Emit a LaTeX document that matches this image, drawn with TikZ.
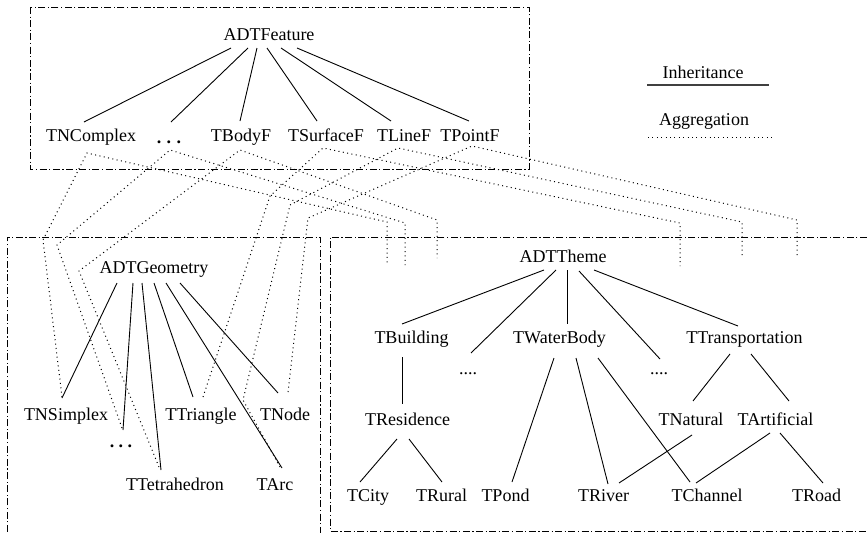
\documentclass[tikz,border=0pt]{standalone}
\usepackage{fontspec}
\setmainfont{Liberation Serif}
\newfontfamily\diagfont{Liberation Serif}
\usetikzlibrary{calc}
\begin{document}
\begin{tikzpicture}[x=1pt,y=-1pt,
  lbl/.style={inner sep=0pt, outer sep=0pt, text height=11.9pt, text depth=0pt, font=\diagfont\fontsize{18pt}{20pt}\selectfont},
  inh/.style={line width=0.9pt},
  agg/.style={line width=1pt, dash pattern=on 1pt off 3.4pt},
  boxline/.style={line width=0.9pt, dash pattern=on 7pt off 2.5pt on 1.2pt off 2.5pt}]
\useasboundingbox (0,0) rectangle (868,533);

% ---- boxes
\draw[boxline] (30,7) rectangle (529,169);
\draw[boxline] (7,545) -- (7,237) -- (320,237) -- (320,545);
\draw[boxline] (880,237) -- (330,237) -- (330,531) -- (880,531);

% ---- feature nodes
\node[lbl] (feat) at (269,35) {ADTFeature};
\node[lbl] (tnc) at (91,136) {TNComplex};
\node[lbl] (fdots) at (169,138) {\textbf{.\hspace{5.4pt}.\hspace{5.4pt}.}};
\node[lbl] (tbf) at (241,136) {TBodyF};
\node[lbl] (tsf) at (326,136) {TSurfaceF};
\node[lbl] (tlf) at (404,136) {TLineF};
\node[lbl] (tpf) at (470,136) {TPointF};

% ---- geometry nodes
\node[lbl] (geo) at (154,268) {ADTGeometry};
\node[lbl] (tns) at (66,415) {TNSimplex};
\node[lbl] (gdots) at (121,442) {\textbf{.\hspace{4.4pt}.\hspace{4.4pt}.}};
\node[lbl] (ttet) at (175,485) {TTetrahedron};
\node[lbl] (ttri) at (201,415) {TTriangle};
\node[lbl] (tnode) at (285,415) {TNode};
\node[lbl] (tarc) at (275,485) {TArc};

% ---- theme nodes
\node[lbl] (theme) at (563,257) {ADTTheme};
\node[lbl] (tbui) at (411.5,338) {TBuilding};
\node[lbl] (tdots1) at (468,369) {....};
\node[lbl] (twat) at (559.5,338) {TWaterBody};
\node[lbl] (tdots2) at (659,369) {....};
\node[lbl] (ttra) at (744.5,338) {TTransportation};
\node[lbl] (tres) at (407.5,420) {TResidence};
\node[lbl] (tnat) at (691,420) {TNatural};
\node[lbl] (tart) at (775.5,420) {TArtificial};
\node[lbl] (tcity) at (368,496) {TCity};
\node[lbl] (trur) at (441.5,496) {TRural};
\node[lbl] (tpond) at (505.5,496) {TPond};
\node[lbl] (triv) at (603.5,496) {TRiver};
\node[lbl] (tchan) at (707,496) {TChannel};
\node[lbl] (troad) at (816.5,496) {TRoad};

% ---- legend
\node[lbl] (linh) at (703,73) {Inheritance};
\node[lbl] (lagg) at (704,120) {Aggregation};
\draw[line width=1.2pt, black!75] ($(linh)+(-56,12)$) -- ($(linh)+(66,12)$);
\draw[agg] ($(lagg)+(-56,17)$) -- ($(lagg)+(69,17)$);

% ---- inheritance: feature
\draw[inh] ($(feat)+(-38,13)$) -- ($(tnc)+(-7,-14)$);
\draw[inh] ($(feat)+(-21,13)$) -- ($(fdots)+(2,-16)$);
\draw[inh] ($(feat)+(-12,13)$) -- ($(tbf)+(-1,-15)$);
\draw[inh] ($(feat)+(-2,13)$) -- ($(tsf)+(-9,-15)$);
\draw[inh] ($(feat)+(12,13)$) -- ($(tlf)+(-13,-15)$);
\draw[inh] ($(feat)+(28,13)$) -- ($(tpf)+(-1,-15)$);

% ---- inheritance: geometry
\draw[inh] ($(geo)+(-37,15)$) -- ($(tns)+(-4,-17)$);
\draw[inh] ($(geo)+(-21,15)$) -- ($(gdots)+(2,-12)$);
\draw[inh] ($(geo)+(-12,15)$) -- ($(ttet)+(-14,-15)$);
\draw[inh] ($(geo)+(0,15)$) -- ($(ttri)+(-8,-18)$);
\draw[inh] ($(geo)+(12,15)$) -- ($(tarc)+(7,-17)$);
\draw[inh] ($(geo)+(26,15)$) -- ($(tnode)+(-7,-22)$);

% ---- inheritance: theme
\draw[inh] ($(theme)+(-19,13)$) -- ($(tbui)+(-9.5,-14)$);
\draw[inh] ($(theme)+(-7,13)$) -- ($(tdots1)+(3,-16)$);
\draw[inh] ($(theme)+(4,13)$) -- ($(twat)+(7.5,-14)$);
\draw[inh] ($(theme)+(16,14)$) -- ($(tdots2)+(1,-10)$);
\draw[inh] ($(theme)+(31,13)$) -- ($(ttra)+(-6.5,-12)$);
\draw[inh] ($(tbui)+(-9.5,19)$) -- ($(tres)+(-5.5,-16)$);
\draw[inh] ($(tres)+(-10.5,19)$) -- ($(tcity)+(-8,-14)$);
\draw[inh] ($(tres)+(1.5,19)$) -- ($(trur)+(0.5,-14)$);
\draw[inh] ($(twat)+(-5.5,20)$) -- ($(tpond)+(6.5,-14)$);
\draw[inh] ($(twat)+(16.5,20)$) -- ($(triv)+(4.5,-12)$);
\draw[inh] ($(twat)+(38.5,20)$) -- ($(tchan)+(-17,-14)$);
\draw[inh] ($(ttra)+(-14.5,16)$) -- ($(tnat)+(2,-19)$);
\draw[inh] ($(ttra)+(6.5,16)$) -- ($(tart)+(13.5,-19)$);
\draw[inh] ($(tnat)+(1,15)$) -- ($(triv)+(15.5,-13)$);
\draw[inh] ($(tart)+(-5.5,13)$) -- ($(tchan)+(-11,-13)$);
\draw[inh] ($(tart)+(4.5,13)$) -- ($(troad)+(6.5,-13)$);

% ---- aggregation bends and stubs
\coordinate (cA) at (43,240);
\coordinate (cB) at (57,245);
\coordinate (cC) at (79,271);
\coordinate (cD) at (270,196);
\coordinate (cE) at (290,205);
\coordinate (cE2) at (243,400);
\coordinate (cF) at (308,218);
\coordinate (s1t) at (387,222); \coordinate (s1b) at (387,265);
\coordinate (s2t) at (405,223); \coordinate (s2b) at (405,265);
\coordinate (s3t) at (437,220); \coordinate (s3b) at (437,258);
\coordinate (s4t) at (680,223); \coordinate (s4b) at (680,266);
\coordinate (s5t) at (742,222); \coordinate (s5b) at (742,257);
\coordinate (s6t) at (797,220); \coordinate (s6b) at (797,258);

\draw[agg] ($(tns)+(-4,-18)$) -- (cA) -- ($(tnc)+(-4,17)$) -- (s1t) -- (s1b);
\draw[agg] ($(gdots)+(1,-14)$) -- (cB) -- ($(fdots)+(1,12)$) -- (s2t) -- (s2b);
\draw[agg] ($(ttet)+(-16,-18)$) -- (cC) -- ($(tbf)+(-1,14)$) -- (s3t) -- (s3b);
\draw[agg] ($(ttri)+(2,-18)$) -- (cD) -- ($(tsf)+(-3,12)$) -- (s4t) -- (s4b);
\draw[agg] ($(tarc)+(5,-18)$) -- (cE2) -- (cE) -- ($(tlf)+(-6,12)$) -- (s5t) -- (s5b);
\draw[agg] ($(tnode)+(3,-23)$) -- (cF) -- ($(tpf)+(2,10)$) -- (s6t) -- (s6b);
\end{tikzpicture}
\end{document}
